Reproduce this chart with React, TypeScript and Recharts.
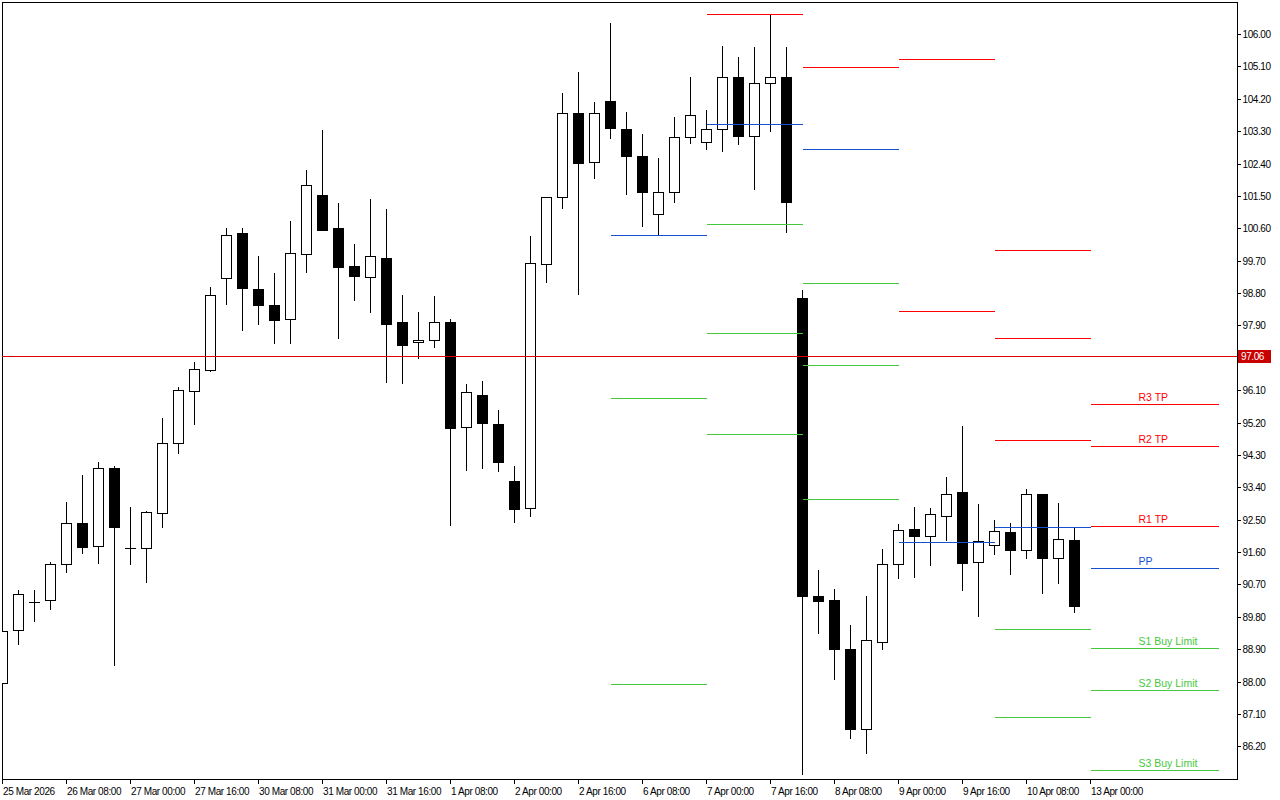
import React from 'react';
import { ComposedChart, Bar, XAxis, YAxis, ReferenceLine, ReferenceArea } from 'recharts';

// bar timestamps shown on the time scale (one label every 4 bars)
const timeTicks = [0, 4, 8, 12, 16, 20, 24, 28, 32, 36, 40, 44, 48, 52, 56, 60, 64, 68];
const timeLabels = [
  '25 Mar 2026', '26 Mar 08:00', '27 Mar 00:00', '27 Mar 16:00', '30 Mar 08:00', '31 Mar 00:00',
  '31 Mar 16:00', '1 Apr 08:00', '2 Apr 00:00', '2 Apr 16:00', '6 Apr 08:00', '7 Apr 00:00',
  '7 Apr 16:00', '8 Apr 08:00', '9 Apr 00:00', '9 Apr 16:00', '10 Apr 08:00', '13 Apr 00:00',
];

const priceTicks = [
  86.2, 87.1, 88.0, 88.9, 89.8, 90.7, 91.6, 92.5, 93.4, 94.3, 95.2, 96.1,
  97.9, 98.8, 99.7, 100.6, 101.5, 102.4, 103.3, 104.2, 105.1, 106.0,
];

const opens = [
  87.97, 89.46, 90.24, 90.27, 91.27, 92.43, 91.77, 93.94, 91.72, 91.72,
  92.71, 94.65, 96.09, 96.68, 99.22, 100.47, 98.94, 98.47, 98.08, 99.90,
  101.55, 100.62, 99.56, 99.26, 99.78, 98.00, 97.44, 97.50, 98.00, 95.08,
  95.98, 95.17, 93.58, 92.83, 99.61, 101.47, 103.83, 102.46, 104.15, 103.37,
  102.62, 101.00, 101.61, 103.14, 103.00, 103.36, 104.83, 103.17, 104.64, 104.83,
  98.67, 90.39, 90.28, 88.92, 86.70, 89.12, 91.27, 92.25, 92.05, 92.63,
  93.28, 91.33, 91.80, 92.16, 91.66, 93.22, 91.46, 91.96, 97.06,
];
const highs = [
  89.47, 90.57, 90.57, 91.35, 93.02, 93.75, 94.13, 94.00, 92.86, 92.76,
  95.34, 96.21, 96.89, 98.97, 100.62, 100.62, 99.84, 99.37, 100.81, 102.23,
  103.34, 101.31, 100.17, 101.42, 101.14, 98.75, 98.28, 98.73, 98.09, 96.28,
  96.36, 95.56, 94.00, 100.39, 101.47, 104.37, 104.95, 104.12, 106.31, 103.84,
  103.23, 102.56, 103.70, 104.81, 103.90, 105.67, 105.37, 105.65, 106.54, 105.65,
  98.89, 91.11, 90.58, 89.58, 90.39, 91.69, 92.39, 92.86, 92.83, 93.70,
  95.11, 92.95, 92.50, 92.41, 93.37, 93.22, 92.97, 92.30, 97.06,
];
const lows = [
  87.94, 89.07, 89.71, 90.04, 91.07, 91.60, 91.32, 88.49, 91.28, 90.78,
  92.31, 94.38, 95.17, 96.64, 98.52, 97.79, 97.95, 97.43, 97.43, 99.39,
  100.56, 97.57, 98.62, 98.29, 96.34, 96.32, 97.01, 97.32, 92.37, 93.90,
  93.95, 93.87, 92.45, 92.62, 99.12, 101.18, 98.79, 102.01, 103.13, 101.57,
  100.68, 100.45, 101.35, 102.99, 102.82, 102.76, 102.96, 101.71, 103.32, 100.51,
  85.46, 89.37, 88.09, 86.45, 86.03, 88.92, 90.90, 90.92, 91.25, 91.95,
  90.56, 89.84, 91.56, 91.01, 91.45, 90.48, 90.76, 89.95, 97.06,
];
const closes = [
  89.43, 90.44, 90.24, 91.29, 92.43, 91.75, 93.96, 92.32, 91.72, 92.74,
  94.65, 96.13, 96.69, 98.77, 100.44, 98.96, 98.49, 98.07, 99.92, 101.83,
  100.56, 99.54, 99.29, 99.84, 97.96, 97.37, 97.52, 98.02, 95.07, 96.05,
  95.19, 94.12, 92.81, 99.64, 101.47, 103.83, 102.43, 103.83, 103.40, 102.63,
  101.63, 101.61, 103.14, 103.75, 103.36, 104.83, 103.18, 104.64, 104.83, 101.35,
  90.40, 90.26, 88.92, 86.70, 89.17, 91.28, 92.24, 92.06, 92.66, 93.24,
  91.31, 91.91, 92.21, 91.68, 93.22, 91.45, 91.99, 90.12, 97.06,
];

const bidPrice = 97.06;

// daily pivot segments: each one spans 6 bars
const segStarts = [38, 44, 50, 56, 62];
const segResist = [[], [106.56], [105.08], [105.31, 98.30], [100.0, 97.55, 94.72]];
const segPivot = [100.41, 103.5, 102.8, 91.88, 92.31];
const segSupport = [[95.88, 87.93], [100.72, 97.69, 94.88], [99.08, 96.8, 93.08], [], [89.47, 87.02]];

// projected levels for the next session
const nextStart = 68;
const nextEnd = 76;
const nextNames = ['R3 TP', 'R2 TP', 'R1 TP', 'PP', 'S1 Buy Limit', 'S2 Buy Limit', 'S3 Buy Limit'];
const nextPrices = [95.72, 94.55, 92.33, 91.16, 88.94, 87.77, 85.54];
const nextKinds = ['r', 'r', 'r', 'p', 's', 's', 's'];

const RED = '#ff0000';
const BLUE = '#1450d2';
const GREEN = '#46c83c';
const FONT = "'Liberation Sans', Arial, sans-serif";
const kindColor: any = { r: RED, p: BLUE, s: GREEN };

const xDomain = [-0.03125, 77.15625];
const yDomain = [85.308, 106.903];

const candles = opens.map((o, i) => ({
  i,
  open: o,
  high: highs[i],
  low: lows[i],
  close: closes[i],
  range: [lows[i], highs[i]],
}));

const Candle = (props: any) => {
  const { x, y, width, height, payload } = props;
  if (x == null || y == null) return null;
  const top = Math.min(y, y + height);
  const h = Math.abs(height);
  const cx = Math.floor(x + width / 2) + 0.5;
  const span = payload.high - payload.low;
  const k = span > 0 ? h / span : 0;
  const py = (v: number) => Math.round(top + (payload.high - v) * k);
  const yo = py(payload.open);
  const yc = py(payload.close);
  const bTop = Math.min(yo, yc);
  const bBot = Math.max(yo, yc);
  const up = payload.close > payload.open;
  const wTop = Math.round(top);
  const wBot = Math.round(top + h);
  return (
    <g>
      {wBot - wTop >= 1 && <line x1={cx} x2={cx} y1={wTop} y2={wBot + 1} stroke="#000" strokeWidth={1} />}
      {bBot - bTop < 1 ? (
        <line x1={cx - 5.5} x2={cx + 5.5} y1={bTop + 0.5} y2={bTop + 0.5} stroke="#000" strokeWidth={1} />
      ) : up ? (
        <rect x={cx - 5} y={bTop + 0.5} width={10} height={bBot - bTop} fill="#fff" stroke="#000" strokeWidth={1} />
      ) : (
        <rect x={cx - 5.5} y={bTop} width={11} height={bBot - bTop + 1} fill="#000" />
      )}
    </g>
  );
};

const TimeTick = (props: any) => {
  const { x, y, payload } = props;
  const idx = timeTicks.indexOf(payload.value);
  return (
    <text x={x + 0.5} y={y + 11} fontSize={10} fontFamily={FONT} letterSpacing={-0.4} fill="#000" textAnchor="start">
      {timeLabels[idx]}
    </text>
  );
};

const PriceTick = (props: any) => {
  const { x, y, payload } = props;
  return (
    <text x={x + 1.5} y={y + 3.5} fontSize={10} fontFamily={FONT} letterSpacing={-0.4} fill="#000" textAnchor="start">
      {Number(payload.value).toFixed(2)}
    </text>
  );
};

const BidTag = (props: any) => {
  const vb = props.viewBox;
  if (!vb) return null;
  const x0 = vb.x + vb.width + 1;
  return (
    <g>
      <rect x={x0} y={Math.round(vb.y) - 6} width={33} height={13} fill="#c80000" />
      <text x={x0 + 3} y={Math.round(vb.y) + 4} fontSize={10} fontFamily={FONT} letterSpacing={-0.4} fill="#fff">
        {bidPrice.toFixed(2)}
      </text>
    </g>
  );
};

const LevelTag = (props: any) => {
  const vb = props.viewBox;
  if (!vb) return null;
  return (
    <text x={vb.x + 48} y={vb.y - 3.5} fontSize={10.5} fontFamily={FONT} fill={props.color}>
      {props.text}
    </text>
  );
};

const seg = (a: number, b: number, v: number) => [{ x: a, y: v }, { x: b, y: v }];

export default function App() {
  const levelLines: any[] = [];
  segStarts.forEach((s, k) => {
    const e = s + 6;
    segResist[k].forEach((v, j) =>
      levelLines.push(<ReferenceLine key={`r${k}-${j}`} segment={seg(s, e, v)} stroke={RED} strokeWidth={1} ifOverflow="visible" />)
    );
    levelLines.push(<ReferenceLine key={`p${k}`} segment={seg(s, e, segPivot[k])} stroke={BLUE} strokeWidth={1} ifOverflow="visible" />);
    segSupport[k].forEach((v, j) =>
      levelLines.push(<ReferenceLine key={`s${k}-${j}`} segment={seg(s, e, v)} stroke={GREEN} strokeWidth={1} ifOverflow="visible" />)
    );
  });

  return (
    <div style={{ position: 'absolute', left: 0, top: 0, width: 1280, height: 800, background: '#fff' }}>
      <style>{`svg line, svg rect, svg path { shape-rendering: crispEdges; }`}</style>
      <ComposedChart width={1280} height={800} data={candles} margin={{ top: 2, right: 0, bottom: 0, left: 2 }}>
        <XAxis
          dataKey="i"
          type="number"
          domain={xDomain}
          allowDataOverflow
          ticks={timeTicks}
          interval={0}
          height={21}
          tickSize={5}
          tickMargin={0}
          axisLine={{ stroke: '#000' }}
          tickLine={{ stroke: '#000' }}
          tick={<TimeTick />}
        />
        <YAxis
          orientation="right"
          type="number"
          domain={yDomain}
          allowDataOverflow
          ticks={priceTicks}
          interval={0}
          width={43}
          tickSize={4}
          tickMargin={0}
          axisLine={{ stroke: '#000' }}
          tickLine={{ stroke: '#000' }}
          tick={<PriceTick />}
        />
        <ReferenceArea x1={xDomain[0]} x2={xDomain[1]} y1={yDomain[0]} y2={yDomain[1]} fill="none" stroke="#000" strokeWidth={1} fillOpacity={0} ifOverflow="visible" />
        <ReferenceLine y={bidPrice} stroke="#e00000" strokeWidth={1} label={<BidTag />} />
        <Bar dataKey="range" barSize={11} isAnimationActive={false} shape={<Candle />} />
        {levelLines}
        {nextPrices.map((v, k) => (
          <ReferenceLine
            key={`n${k}`}
            segment={seg(nextStart, nextEnd, v)}
            stroke={kindColor[nextKinds[k]]}
            strokeWidth={1}
            ifOverflow="visible"
            label={<LevelTag text={nextNames[k]} color={kindColor[nextKinds[k]]} />}
          />
        ))}
      </ComposedChart>
    </div>
  );
}
